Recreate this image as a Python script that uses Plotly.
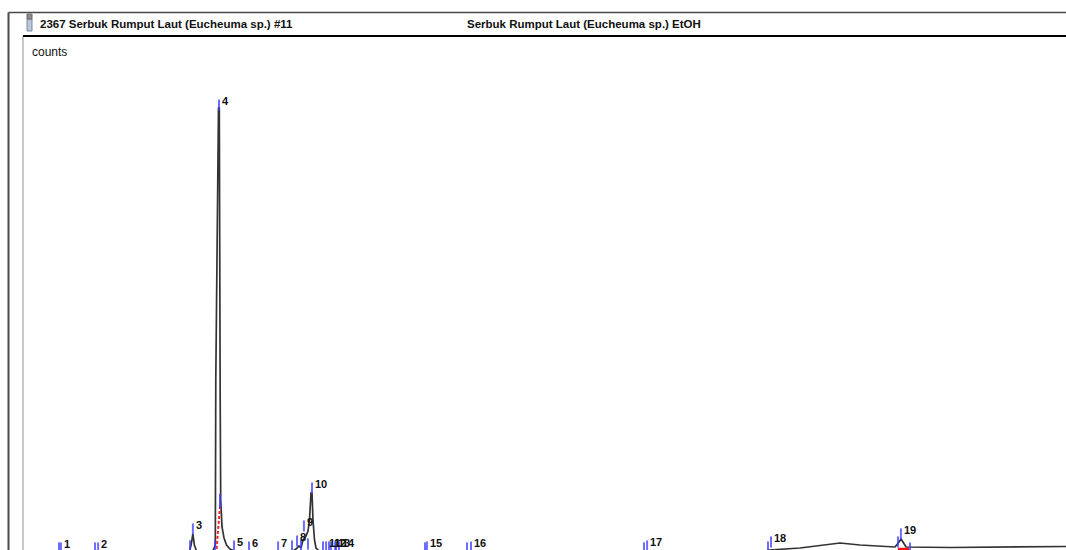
import plotly.graph_objects as go

# ---------------- data (retention time in min, signal in counts) ----------------
peak_numbers = [1, 2, 3, 4, 5, 6, 7, 8, 9, 10, 11, 12, 13, 14, 15, 16, 17, 18, 19]
peak_times = [1.23, 2.47, 5.63, 6.50, 7.00, 7.50, 8.47, 9.10, 9.33, 9.60,
              10.07, 10.23, 10.37, 10.50, 13.43, 14.90, 20.77, 24.90, 29.23]
peak_heights = [0, 0, 19000, 443000, 2000, 1000, 1000, 7000, 22000, 60000,
                1000, 1000, 1000, 1000, 1000, 1000, 2000, 6000, 14000]

trace_time = [0.0, 5.50, 5.57, 5.63, 5.68, 5.77,
              6.267, 6.377, 6.393, 6.45, 6.483, 6.51, 6.527, 6.54, 6.557, 6.60, 6.667, 6.75, 6.867, 7.067, 7.367,
              8.867, 9.067, 9.167, 9.233, 9.30, 9.40, 9.467, 9.517, 9.567, 9.60, 9.633, 9.683, 9.733, 9.867, 10.2,
              24.533, 24.833, 25.867, 27.2, 27.867, 29.033, 29.167, 29.233, 29.30, 29.40, 30.867, 32.533, 34.733]
trace_counts = [0, 0, 8000, 19000, 8000, 0,
                0, 8000, 173000, 373000, 445000, 445000, 353000, 153000, 53000, 26000, 15000, 8000, 4000, 1000, 0,
                0, 4000, 7000, 5000, 13000, 17000, 22000, 33000, 60000, 60000, 33000, 13000, 5000, 1000, 0,
                0, 3000, 5000, 10000, 8000, 6000, 11000, 14000, 11000, 6000, 5500, 6000, 6500]

# integration marks
base_mark_times = [1.167, 2.367, 5.533, 6.367, 8.933, 9.233, 9.467, 9.967, 10.167, 10.40,
                   13.367, 14.767, 20.667, 24.80, 29.133, 29.533]
base_mark_counts = [5000, 5000, 7000, 7000, 7000, 8000, 9000, 6000, 6000, 6000,
                    5000, 5000, 5000, 6000, 11000, 5000]
split_time = [6.533, 6.417]
split_counts = [47000, 3000]
split_mark_time = [6.533]
split_mark_counts = [52000]
base19_time = [29.13, 29.50]
base19_counts = [4000, 4000]

title_left = "2367 Serbuk Rumput Laut (Eucheuma sp.) #11"
title_right = "Serbuk Rumput Laut (Eucheuma sp.) EtOH"
y_label = "counts"

# ---------------- figure ----------------
FONT = "Liberation Sans, Arial, sans-serif"
W, H = 1066, 550
L, T = 24, 36
PW, PH = W - L, H - T

def px(xp):
    return (xp - L) / PW

def py(yp):
    return (H - yp) / PH

fig = go.Figure()

fig.add_trace(go.Scatter(x=trace_time, y=trace_counts, mode="lines",
                         line=dict(color="#333333", width=1.7), hoverinfo="skip"))
fig.add_trace(go.Scatter(x=split_time, y=split_counts, mode="lines",
                         line=dict(color="#ff2020", width=2, dash="3px,2px"), hoverinfo="skip"))
fig.add_trace(go.Scatter(x=base19_time, y=base19_counts, mode="lines",
                         line=dict(color="#ff1010", width=2.5), hoverinfo="skip"))

label_offset = 9000
tick_offset = 5000
fig.add_trace(go.Scatter(x=peak_times, y=[h + tick_offset for h in peak_heights], mode="markers",
                         marker=dict(symbol="line-ns", size=8,
                                     line=dict(color="rgba(60,60,255,0.75)", width=2)),
                         hoverinfo="skip"))
fig.add_trace(go.Scatter(x=base_mark_times, y=base_mark_counts, mode="markers",
                         marker=dict(symbol="line-ns", size=8,
                                     line=dict(color="rgba(60,60,255,0.75)", width=2)),
                         hoverinfo="skip"))
fig.add_trace(go.Scatter(x=split_mark_time, y=split_mark_counts, mode="markers",
                         marker=dict(symbol="line-ns", size=10,
                                     line=dict(color="rgba(60,60,255,0.85)", width=2)),
                         hoverinfo="skip"))

annotations = []
for n, t, h in zip(peak_numbers, peak_times, peak_heights):
    annotations.append(dict(x=t, y=h + label_offset, xref="x", yref="y", text=f"<b>{n}</b>",
                            showarrow=False, xanchor="left", yanchor="middle", xshift=1,
                            font=dict(family=FONT, size=11, color="#111")))

annotations += [
    dict(x=px(38), y=py(24), xref="paper", yref="paper", text=f"<b>{title_left}</b>",
         showarrow=False, xanchor="left", yanchor="middle",
         font=dict(family=FONT, size=11.5, color="#111")),
    dict(x=px(465), y=py(24), xref="paper", yref="paper", text=f"<b>{title_right}</b>",
         showarrow=False, xanchor="left", yanchor="middle",
         font=dict(family=FONT, size=11.5, color="#111")),
    dict(x=px(30), y=py(52), xref="paper", yref="paper", text=y_label,
         showarrow=False, xanchor="left", yanchor="middle",
         font=dict(family=FONT, size=12, color="#111")),
]

shapes = [
    # outer frame top and left
    dict(type="line", xref="paper", yref="paper", x0=px(8.5), x1=1.0, y0=py(12.5), y1=py(12.5),
         line=dict(color="#4a4a4a", width=1.5)),
    dict(type="line", xref="paper", yref="paper", x0=px(8.5), x1=px(8.5), y0=py(12.5), y1=py(551),
         line=dict(color="#4a4a4a", width=2)),
    # header bottom line
    dict(type="line", xref="paper", yref="paper", x0=px(23), x1=1.0, y0=py(36), y1=py(36),
         line=dict(color="#000", width=2)),
    # small document icon
    dict(type="rect", xref="paper", yref="paper", x0=px(27), x1=px(32), y0=py(31), y1=py(19),
         fillcolor="#b8c8dc", line=dict(color="#7a8a9a", width=1)),
    dict(type="rect", xref="paper", yref="paper", x0=px(27), x1=px(32), y0=py(19), y1=py(14),
         fillcolor="#8a8a8a", line=dict(color="#6a6a6a", width=1)),
]

fig.update_layout(
    width=W, height=H,
    margin=dict(l=L, r=0, t=T, b=0, pad=0),
    paper_bgcolor="white", plot_bgcolor="white",
    showlegend=False,
    annotations=annotations,
    shapes=shapes,
    xaxis=dict(range=[0, 34.733], showgrid=False, zeroline=False, showticklabels=False,
               ticks="", showline=False, fixedrange=True),
    yaxis=dict(range=[3000, 517000], showgrid=False, zeroline=False, showticklabels=False,
               ticks="", showline=True, linecolor="#c8c8c8", linewidth=2, fixedrange=True),
)

fig.write_html("out.html", config={"displayModeBar": False, "staticPlot": True},
               post_script="document.body.style.margin='0';document.body.style.overflow='hidden';")
